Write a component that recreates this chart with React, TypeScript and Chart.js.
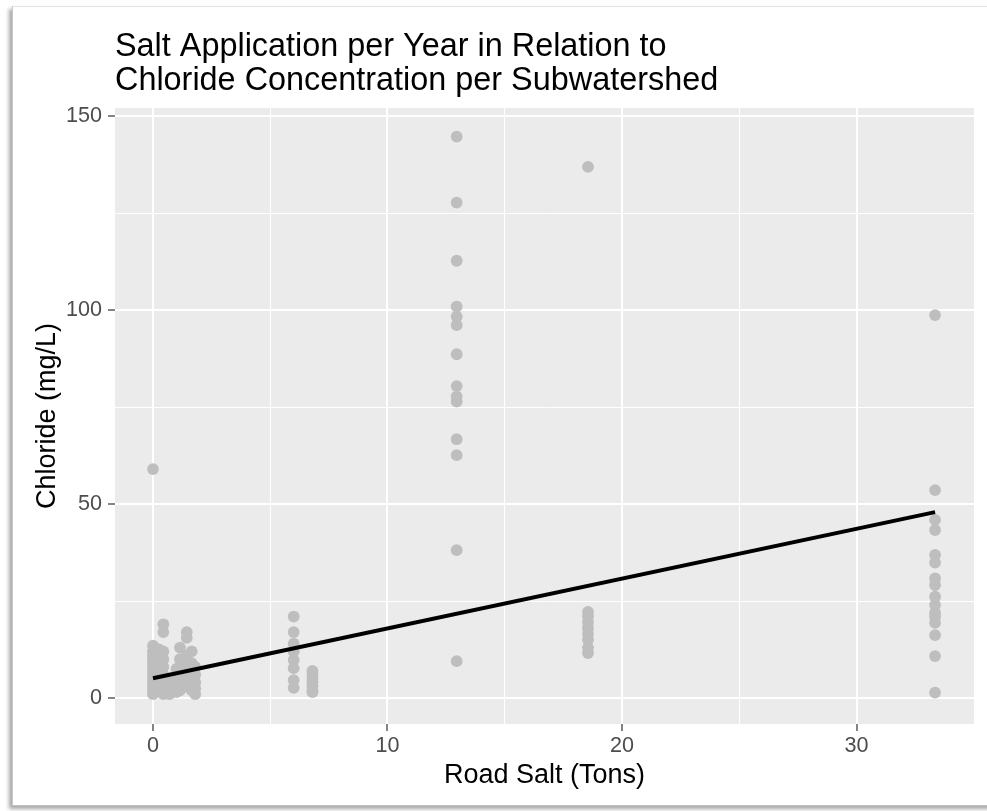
import React, { useEffect, useRef } from "react";
import { Chart, registerables } from "chart.js";

Chart.register(...registerables);

// Road salt applied per subwatershed (tons per year)
const siteSaltTons = [
  0, 0.1, 0.25, 0.44, 0.7, 1.0, 1.15, 1.44, 1.65, 1.8, 6.0, 6.8, 12.95, 18.55, 33.35,
];

// Chloride samples (mg/L) collected at each subwatershed, same order as siteSaltTons
const siteChloride = [
  [1, 2, 3, 4, 5, 6, 7, 8, 9, 10, 11, 12, 13.5, 59],
  [1.5, 3.5, 6, 8.5, 11],
  [2, 5, 7.5, 10, 12.5],
  [1, 2.5, 4, 6, 8, 10, 12, 17, 19],
  [1, 3, 5],
  [1.5, 3.5, 5.5, 7.5],
  [2, 4, 6, 8, 10, 13],
  [3, 5, 7, 9, 11, 15.5, 17],
  [2, 4, 7, 9, 12],
  [1, 2.5, 4, 6, 8],
  [21, 17, 14, 12, 9.8, 7.7, 4.6, 2.6],
  [7, 6, 5, 4, 3, 2, 1.5],
  [144.7, 127.7, 112.7, 100.9, 98.3, 96.1, 88.6, 80.4, 77.7, 76.4, 66.7, 62.6, 38.1, 9.5],
  [136.9, 22.2, 21, 19.5, 18, 16.5, 15, 13, 11.6],
  [98.7, 53.6, 45.9, 43.3, 36.9, 34.9, 30.8, 29.1, 26.1, 24, 22, 21, 19.4, 16.2, 10.8, 1.4],
];

// Linear fit of chloride on road salt
const fitSalt = [0, 33.35];
const fitChloride = [5.1, 47.9];

// Axis breaks
const xBreaks = [0, 5, 10, 15, 20, 25, 30];
const xLabelled = [0, 10, 20, 30];
const yBreaks = [0, 25, 50, 75, 100, 125, 150];
const yLabelled = [0, 50, 100, 150];

const titleLines = [
  "Salt Application per Year in Relation to",
  "Chloride Concentration per Subwatershed",
];
const xTitle = "Road Salt (Tons)";
const yTitle = "Chloride (mg/L)";

const FONT = "'Liberation Sans', Arial, Helvetica, sans-serif";

const panelBackground = {
  id: "panelBackground",
  beforeDraw(chart: any) {
    const { ctx, chartArea } = chart;
    ctx.save();
    ctx.fillStyle = "#EBEBEB";
    ctx.fillRect(
      chartArea.left,
      chartArea.top,
      chartArea.right - chartArea.left,
      chartArea.bottom - chartArea.top
    );
    ctx.restore();
  },
};

export default function App() {
  const canvasRef = useRef<HTMLCanvasElement | null>(null);

  useEffect(() => {
    if (!canvasRef.current) return;

    const points: { x: number; y: number }[] = [];
    siteSaltTons.forEach((salt, i) => {
      siteChloride[i].forEach((cl) => points.push({ x: salt, y: cl }));
    });
    const fit = fitSalt.map((x, i) => ({ x, y: fitChloride[i] }));

    const chart = new Chart(canvasRef.current, {
      type: "scatter",
      data: {
        datasets: [
          {
            type: "line",
            label: "fit",
            data: fit,
            borderColor: "#000000",
            borderWidth: 4,
            pointRadius: 0,
            fill: false,
            order: 0,
          } as any,
          {
            label: "samples",
            data: points,
            backgroundColor: "#BEBEBE",
            borderWidth: 0,
            pointRadius: 5.9,
            pointHoverRadius: 5.9,
            order: 1,
          },
        ],
      },
      plugins: [panelBackground],
      options: {
        responsive: false,
        animation: false,
        events: [],
        layout: { padding: { left: 0, right: 13, top: 0, bottom: 0 } },
        plugins: {
          legend: { display: false },
          tooltip: { enabled: false },
          title: {
            display: true,
            text: titleLines,
            align: "start",
            fullSize: false,
            color: "#000000",
            font: { family: FONT, size: 32.4, weight: "normal", lineHeight: 1.05 },
            padding: { top: 30, bottom: 10 },
          },
        },
        scales: {
          x: {
            type: "linear",
            min: -1.62,
            max: 35.01,
            afterBuildTicks: (axis: any) => {
              axis.ticks = xBreaks.map((v) => ({ value: v }));
            },
            afterFit: (axis: any) => {
              axis.height = 87;
            },
            border: { display: false },
            grid: {
              color: "#FFFFFF",
              lineWidth: (c: any) => (xLabelled.includes(c.tick?.value) ? 2 : 1),
              drawTicks: true,
              tickLength: 7,
              tickWidth: 1.2,
              tickColor: (c: any) =>
                xLabelled.includes(c.tick?.value) ? "#333333" : "rgba(0,0,0,0)",
            },
            ticks: {
              padding: 2,
              color: "#4D4D4D",
              font: { family: FONT, size: 21.6 },
              maxRotation: 0,
              autoSkip: false,
              callback: (v: any) => (xLabelled.includes(Number(v)) ? String(v) : ""),
            },
            title: {
              display: true,
              text: xTitle,
              color: "#000000",
              font: { family: FONT, size: 27 },
              padding: { top: 0, bottom: 19 },
            },
          },
          y: {
            type: "linear",
            min: -6.7,
            max: 152.06,
            afterBuildTicks: (axis: any) => {
              axis.ticks = yBreaks.map((v) => ({ value: v }));
            },
            afterFit: (axis: any) => {
              axis.width = 115;
            },
            border: { display: false },
            grid: {
              color: "#FFFFFF",
              lineWidth: (c: any) => (yLabelled.includes(c.tick?.value) ? 2 : 1),
              drawTicks: true,
              tickLength: 7,
              tickWidth: 1.2,
              tickColor: (c: any) =>
                yLabelled.includes(c.tick?.value) ? "#333333" : "rgba(0,0,0,0)",
            },
            ticks: {
              padding: 6,
              color: "#4D4D4D",
              font: { family: FONT, size: 21.6 },
              autoSkip: false,
              callback: (v: any) => (yLabelled.includes(Number(v)) ? String(v) : ""),
            },
            title: {
              display: true,
              text: yTitle,
              color: "#000000",
              font: { family: FONT, size: 27 },
              padding: { top: 31, bottom: 0 },
            },
          },
        },
      },
    });

    return () => chart.destroy();
  }, []);

  return (
    <div
      style={{
        position: "fixed",
        left: 0,
        top: 0,
        width: 987,
        height: 811,
        background: "#FFFFFF",
        overflow: "hidden",
      }}
    >
      <div
        style={{
          position: "absolute",
          left: 12,
          top: 6,
          width: 1000,
          height: 798,
          background: "#FFFFFF",
          borderTop: "1px solid #E4E4E4",
          borderLeft: "1px solid #C8C8C8",
          borderBottom: "1px solid #C0C0C0",
          boxShadow: "-3px 3px 4px rgba(0,0,0,0.35)",
        }}
      />
      <canvas
        ref={canvasRef}
        width={987}
        height={811}
        style={{ position: "absolute", left: 0, top: 0, width: 987, height: 811 }}
      />
    </div>
  );
}
